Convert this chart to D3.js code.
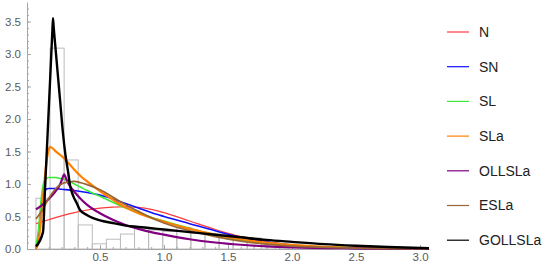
<!DOCTYPE html>
<html>
<head>
<meta charset="utf-8">
<script src="https://cdn.jsdelivr.net/npm/d3@7"></script>
<style>
  body { margin: 0; background: #fff; }
  svg { display: block; font-family: "Liberation Sans", Arial, sans-serif; }
  .axis path, .axis line { stroke: #a6a6a6; }
  .axis text { fill: #5a5a5a; font-size: 11.5px; }
</style>
</head>
<body>
<svg id="chart"></svg>
<script>
// histogram bins (width 0.11) and heights
const binWidth = 0.11;
const binHeights = [0.78, 3.09, 1.37, 0.37, 0.08, 0, 0.15, 0.23, 0.32, 0.29, 0.27, 0.33,
  0.25, 0.23, 0.23, 0.17, 0.17, 0.06, 0, 0, 0, 0, 0.07, 0, 0, 0, 0, 0];

const seriesNames = ["N", "SN", "SL", "SLa", "OLLSLa", "ESLa", "GOLLSLa"];
const seriesColors = ["#ff3b3b", "#1010ff", "#3ae83a", "#ff8000", "#800080", "#996633", "#000000"];
const seriesWidths = [1.2, 1.6, 1.6, 2.2, 2.2, 1.7, 2.4];

const nPts = [[0,0.39],[0.1,0.45],[0.2,0.51],[0.3,0.56],[0.4,0.60],[0.5,0.63],[0.6,0.645],[0.7,0.65],
  [0.8,0.64],[0.9,0.61],[1.0,0.56],[1.2,0.43],[1.4,0.30],[1.6,0.19],[1.8,0.11],[2.0,0.055],
  [2.25,0.02],[2.5,0.008],[3.07,0.001]];
const snPts = [[0,0.0],[0.02,0.2],[0.04,0.6],[0.06,0.86],[0.08,0.92],[0.1,0.93],[0.15,0.93],[0.2,0.92],
  [0.3,0.90],[0.4,0.87],[0.5,0.83],[0.6,0.77],[0.7,0.70],[0.8,0.63],[0.9,0.56],[1.0,0.50],[1.2,0.39],
  [1.4,0.28],[1.6,0.18],[1.8,0.11],[2.0,0.06],[2.25,0.025],[2.5,0.01],[3.07,0.001]];
const slPts = [[0,0.05],[0.02,0.3],[0.04,0.75],[0.06,1.02],[0.08,1.08],[0.1,1.10],[0.15,1.10],[0.2,1.08],
  [0.25,1.05],[0.3,1.0],[0.35,0.95],[0.4,0.90],[0.5,0.81],[0.6,0.72],[0.7,0.63],[0.8,0.56],[0.9,0.49],
  [1.0,0.43],[1.2,0.32],[1.4,0.22],[1.6,0.14],[1.8,0.09],[2.0,0.055],[2.25,0.03],[2.5,0.015],[3.07,0.003]];
const slaPts = [[0,0.0],[0.02,0.12],[0.04,0.45],[0.06,0.9],[0.08,1.3],[0.1,1.53],[0.11,1.57],[0.13,1.55],
  [0.15,1.51],[0.2,1.43],[0.25,1.33],[0.3,1.22],[0.35,1.12],[0.4,1.04],[0.5,0.89],[0.6,0.76],[0.7,0.64],
  [0.8,0.55],[0.9,0.48],[1.0,0.42],[1.2,0.31],[1.4,0.22],[1.6,0.15],[1.8,0.10],[2.0,0.065],[2.25,0.035],
  [2.5,0.018],[2.75,0.009],[3.07,0.004]];
const ollslaPts = [[0,0.61],[0.05,0.68],[0.1,0.77],[0.15,0.88],[0.19,1.0],[0.215,1.13],[0.22,1.15],
  [0.225,1.13],[0.25,1.02],[0.3,0.88],[0.35,0.77],[0.4,0.68],[0.5,0.55],[0.6,0.45],[0.7,0.37],[0.8,0.31],
  [0.9,0.26],[1.0,0.22],[1.2,0.15],[1.4,0.10],[1.6,0.065],[1.8,0.04],[2.0,0.025],[2.5,0.01],[3.07,0.002]];
const eslaPts = [[0,0.46],[0.05,0.6],[0.1,0.78],[0.15,0.92],[0.2,1.0],[0.25,1.03],[0.3,1.04],[0.35,1.02],
  [0.4,0.99],[0.5,0.91],[0.6,0.80],[0.7,0.68],[0.8,0.58],[0.9,0.48],[1.0,0.40],[1.2,0.28],[1.4,0.19],
  [1.6,0.12],[1.8,0.075],[2.0,0.045],[2.25,0.025],[2.5,0.012],[3.07,0.002]];
const gollslaPts = [[0,0.04],[0.055,0.26],[0.07,0.89],[0.09,1.73],[0.11,2.58],[0.128,3.35],[0.133,3.55],
  [0.138,3.42],[0.15,3.15],[0.17,2.7],[0.19,2.25],[0.21,1.8],[0.23,1.45],[0.25,1.2],[0.266,0.98],
  [0.29,0.82],[0.32,0.7],[0.344,0.6],[0.4,0.52],[0.5,0.44],[0.6,0.40],[0.7,0.36],[0.8,0.34],[0.9,0.32],
  [1.0,0.30],[1.2,0.26],[1.4,0.22],[1.6,0.18],[1.8,0.14],[2.0,0.11],[2.25,0.075],[2.5,0.05],[2.75,0.03],
  [3.07,0.012]];
const seriesPoints = [nPts, snPts, slPts, slaPts, ollslaPts, eslaPts, gollslaPts];

const xTicks = [0.5, 1.0, 1.5, 2.0, 2.5, 3.0];
const yTicks = [0.0, 0.5, 1.0, 1.5, 2.0, 2.5, 3.0, 3.5];

const width = 550, height = 268;
const svg = d3.select("#chart").attr("width", width).attr("height", height);

const x = d3.scaleLinear().domain([-0.07, 3.07]).range([27, 429]);
const y = d3.scaleLinear().domain([0, 3.8]).range([249, 2]);

// histogram
svg.append("g").selectAll("rect")
  .data(binHeights)
  .join("rect")
  .filter(d => d > 0)
  .attr("x", (d, i) => x(i * binWidth))
  .attr("y", d => y(d))
  .attr("width", x(binWidth) - x(0))
  .attr("height", d => y(0) - y(d))
  .attr("fill", "none")
  .attr("stroke", "#bdbdbd")
  .attr("stroke-width", 1);

// minor ticks
const xMinor = d3.range(0, 3.05, 0.1);
const yMinor = d3.range(0, 3.75, 0.1);

svg.append("g").attr("class", "axis")
  .attr("transform", `translate(0,${y(0)})`)
  .call(d3.axisBottom(x).tickValues(xMinor).tickSize(-2).tickSizeOuter(0).tickFormat(""))
  .select(".domain").remove();
svg.append("g").attr("class", "axis")
  .attr("transform", `translate(${x(-0.07)},0)`)
  .call(d3.axisLeft(y).tickValues(yMinor).tickSize(-2).tickSizeOuter(0).tickFormat(""))
  .select(".domain").remove();

svg.append("g").attr("class", "axis")
  .attr("transform", `translate(0,${y(0)})`)
  .call(d3.axisBottom(x).tickValues(xTicks).tickSize(-4).tickSizeOuter(0).tickPadding(4)
    .tickFormat(d3.format(".1f")));
svg.append("g").attr("class", "axis")
  .attr("transform", `translate(${x(-0.07)},0)`)
  .call(d3.axisLeft(y).tickValues(yTicks).tickSize(-4).tickSizeOuter(0).tickPadding(6)
    .tickFormat(d3.format(".1f")));

// curves
const line = d3.line()
  .x(d => x(d[0]))
  .y(d => y(d[1]))
  .curve(d3.curveMonotoneX);

svg.append("g").selectAll("path")
  .data(seriesPoints)
  .join("path")
  .attr("d", line)
  .attr("fill", "none")
  .attr("stroke", (d, i) => seriesColors[i])
  .attr("stroke-width", (d, i) => seriesWidths[i])
  .attr("stroke-linejoin", "round");

// legend
const legend = svg.append("g").selectAll("g")
  .data(seriesNames)
  .join("g")
  .attr("transform", (d, i) => `translate(447,${32 + i * 34.7})`);
legend.append("line")
  .attr("x1", 0).attr("x2", 22)
  .attr("stroke", (d, i) => seriesColors[i])
  .attr("stroke-width", 1.2);
legend.append("text")
  .attr("x", 32).attr("dy", "0.35em")
  .attr("font-size", 14)
  .attr("fill", "#222")
  .text(d => d);
</script>
</body>
</html>
